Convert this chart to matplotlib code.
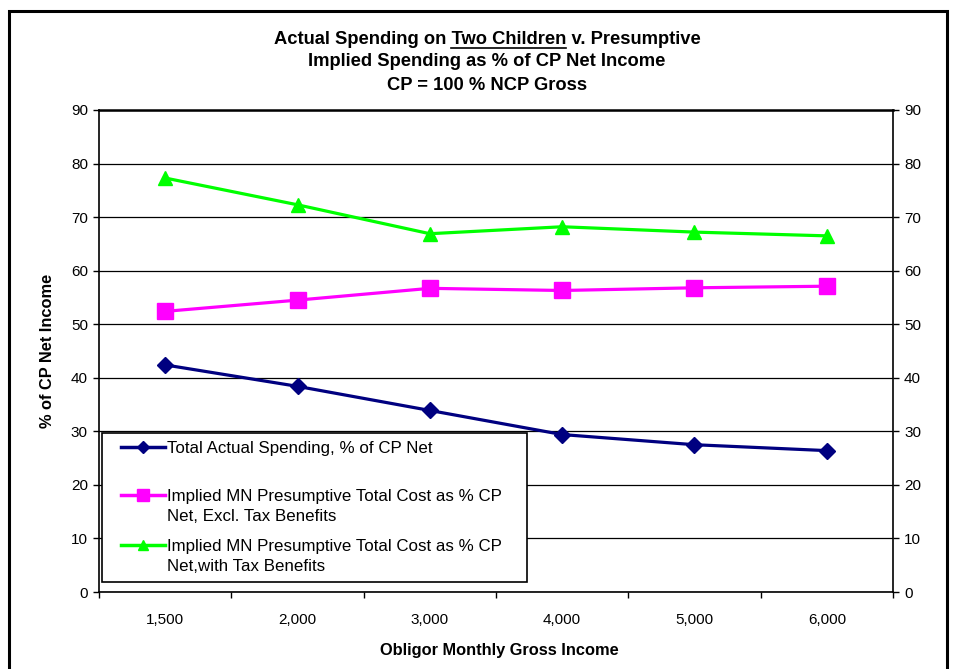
import matplotlib
matplotlib.use("Agg")
import matplotlib.pyplot as plt
from matplotlib.lines import Line2D
from matplotlib.patches import Rectangle

plt.rcParams["font.family"] = ["Liberation Sans", "DejaVu Sans"]

# ---- data ----
income_labels = ["1,500", "2,000", "3,000", "4,000", "5,000", "6,000"]
actual_spending = [42.4, 38.4, 33.9, 29.4, 27.5, 26.4]
presumptive_excl_tax = [52.4, 54.5, 56.7, 56.3, 56.8, 57.1]
presumptive_with_tax = [77.3, 72.3, 66.9, 68.2, 67.2, 66.5]

series_names = [
    ["Total Actual Spending, % of CP Net"],
    ["Implied MN Presumptive Total Cost as % CP", "Net, Excl. Tax Benefits"],
    ["Implied MN Presumptive Total Cost as % CP", "Net,with Tax Benefits"],
]
series_colors = ["#000080", "#FF00FF", "#00FF00"]
series_markers = ["D", "s", "^"]
series_msizes = [8.5, 11.5, 10.5]

W, H = 956, 669
fig = plt.figure(figsize=(W / 100, H / 100), dpi=100)
fig.patch.set_facecolor("white")


def fx(px):
    return px / W


def fy(py):
    return 1 - py / H


ax = fig.add_axes([fx(99), fy(592), fx(893) - fx(99), fy(110) - fy(592)])

x = list(range(len(income_labels)))
all_series = [actual_spending, presumptive_excl_tax, presumptive_with_tax]
for vals, col, mk, ms in zip(all_series, series_colors, series_markers, series_msizes):
    ax.plot(x, vals, color=col, lw=2.3, marker=mk, markersize=ms,
            markeredgecolor=col, zorder=3, clip_on=False)

ax.set_xlim(-0.5, 5.5)
ax.set_ylim(0, 90)
ax.set_yticks(range(0, 91, 10))
ax.yaxis.grid(True, color="black", lw=0.9)
ax.set_axisbelow(True)

ax.set_xticks(x)
ax.set_xticklabels(income_labels, fontsize=11)
ax.set_xticks([i - 0.5 for i in range(len(x) + 1)], minor=True)
ax.tick_params(axis="x", which="major", length=0, pad=15)
ax.tick_params(axis="x", which="minor", length=4, width=1, direction="out")
ax.tick_params(axis="y", which="major", length=4, width=1, direction="out",
               right=True, labelright=True, labelsize=11, pad=4)

for side in ["left", "right", "bottom"]:
    ax.spines[side].set_linewidth(1.2)
ax.spines["top"].set_linewidth(1.8)

# ---- legend box drawn by hand so handles sit on the first text line ----
fig.add_artist(Rectangle((fx(102), fy(582)), fx(527) - fx(102), fy(433) - fy(582),
                         transform=fig.transFigure, facecolor="white",
                         edgecolor="black", lw=1.2, zorder=5))
entry_rows = [447, 495, 545]
for lines, col, mk, ms, row in zip(series_names, series_colors, series_markers,
                                   series_msizes, entry_rows):
    fig.add_artist(Line2D([fx(121), fx(165)], [fy(row), fy(row)],
                          transform=fig.transFigure, color=col, lw=2.5, zorder=6))
    fig.add_artist(Line2D([fx(143)], [fy(row)], transform=fig.transFigure,
                          color=col, marker=mk, markersize=ms * 0.75,
                          markeredgecolor=col, zorder=7))
    for i, s in enumerate(lines):
        fig.text(fx(167), fy(row + 6 + i * 20), s, fontsize=12.2,
                 va="baseline", ha="left", zorder=8)

# ---- titles ----
title_size = 13.2
title_x = fx(487)
line1 = fig.text(title_x, fy(39), "Actual Spending on Two Children v. Presumptive",
                 fontsize=title_size, fontweight="bold", ha="center", va="center")
fig.text(title_x, fy(62), "Implied Spending as % of CP Net Income",
         fontsize=title_size, fontweight="bold", ha="center", va="center")
fig.text(title_x, fy(85), "CP = 100 % NCP Gross",
         fontsize=title_size, fontweight="bold", ha="center", va="center")

# underline "Two Children" in the first title line
fig.canvas.draw()
renderer = fig.canvas.get_renderer()


def text_width(s):
    t = fig.text(0, 0, s, fontsize=title_size, fontweight="bold")
    w = t.get_window_extent(renderer).width
    t.remove()
    return w


left_px = line1.get_window_extent(renderer).x0
end_px = left_px + text_width("Actual Spending on Two Children")
start_px = end_px - text_width("Two Children")
fig.add_artist(Line2D([start_px / W, end_px / W], [fy(48), fy(48)],
                      transform=fig.transFigure, color="black", lw=1.2))

fig.text(fx(499), fy(650), "Obligor Monthly Gross Income", fontsize=11.8,
         fontweight="bold", ha="center", va="center")
fig.text(fx(48), fy(351), "% of CP Net Income", fontsize=11.8,
         fontweight="bold", ha="center", va="center", rotation=90)

# outer chart frame
fig.add_artist(Rectangle((fx(9), fy(700)), fx(947) - fx(9), fy(11) - fy(700),
                         transform=fig.transFigure, facecolor="none",
                         edgecolor="black", lw=2.2, clip_on=False))

fig.savefig("out.png", dpi=100)
